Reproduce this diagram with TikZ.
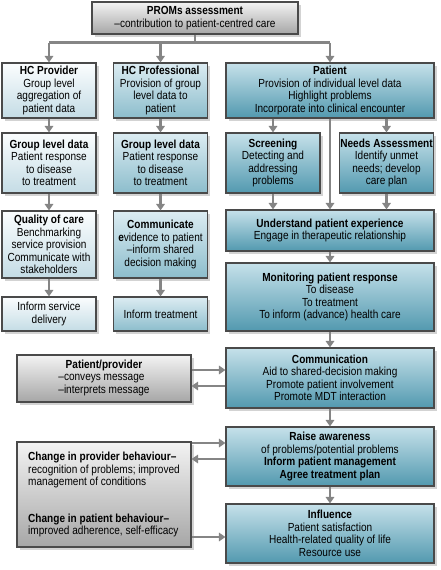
\documentclass[tikz,border=0pt]{standalone}
\usepackage{fontspec}
\setmainfont{Liberation Sans}[FakeStretch=0.86]
\usetikzlibrary{arrows.meta,shadows}
\definecolor{edgegrey}{HTML}{4A4A4A}
\definecolor{arrowgrey}{HTML}{858585}
\definecolor{provtop}{HTML}{FBFDFE}
\definecolor{provbot}{HTML}{C4DCE5}
\definecolor{proftop}{HTML}{DCECF2}
\definecolor{profbot}{HTML}{8CBDCC}
\definecolor{pattop}{HTML}{C6E1EA}
\definecolor{patbot}{HTML}{5299AF}
\definecolor{greytop}{HTML}{F3F3F3}
\definecolor{greybot}{HTML}{A6A6A6}
\tikzset{
	basebox/.style={
		draw=edgegrey, line width=1.1pt, align=center, inner sep=1pt,
		font=\fontsize{11.7}{12.5}\selectfont,
		drop shadow={opacity=0.35, shadow xshift=2.5pt, shadow yshift=-3pt}},
	provbox/.style={basebox, top color=provtop, bottom color=provbot},
	profbox/.style={basebox, top color=proftop, bottom color=profbot},
	patbox/.style={basebox, top color=pattop, bottom color=patbot},
	greybox/.style={basebox, top color=greytop, bottom color=greybot},
	narrow/.style={minimum width=94pt, minimum height=#1},
	wide/.style={minimum width=208pt, minimum height=#1},
	conn/.style={draw=arrowgrey, line width=2.8pt},
	arr/.style={conn, -{Triangle[width=8.5pt,length=6.5pt]}}
}
\begin{document}
\begin{tikzpicture}[x=1pt,y=1pt,yscale=-1,xscale=1]
\useasboundingbox (0,0) rectangle (440,570);

% top of the tree
\node[greybox, minimum width=206pt, minimum height=32pt] (proms) at (195,18)
	{\textbf{PROMs assessment}\\–contribution to patient-centred care};

% first row
\node[provbox, narrow=55pt] (provider) at (49,90.5)
	{\textbf{HC Provider}\\Group level\\aggregation of\\patient data};
\node[profbox, narrow=55pt] (professional) at (160.5,90.5)
	{\textbf{HC Professional}\\Provision of group\\level data to\\patient};
\node[patbox, wide=55pt] (patient) at (330,90.5)
	{\textbf{Patient}\\Provision of individual level data\\Highlight problems\\Incorporate into clinical encounter};

% second row
\node[provbox, narrow=60pt] (provdata) at (49,163)
	{\textbf{Group level data}\\Patient response\\to disease\\to treatment};
\node[profbox, narrow=60pt] (profdata) at (160.5,163)
	{\textbf{Group level data}\\Patient response\\to disease\\to treatment};
\node[patbox, narrow=60pt] (screening) at (273,163)
	{\textbf{Screening}\\Detecting and\\addressing\\problems};
\node[patbox, narrow=60pt] (needs) at (386.5,163)
	{\textbf{Needs Assessment}\\Identify unmet\\needs; develop\\care plan};

% third row
\node[provbox, narrow=67pt] (quality) at (49,244.5)
	{\textbf{Quality of care}\\Benchmarking\\service provision\\Communicate with\\stakeholders};
\node[profbox, narrow=67pt] (communicate) at (160.5,244.5)
	{\textbf{Communicate}\\\textbf{e}vidence to patient\\–inform shared\\decision making};
\node[patbox, wide=41pt] (understand) at (330,230.5)
	{\textbf{Understand patient experience}\\Engage in therapeutic relationship};

% fourth row
\node[provbox, narrow=34pt] (service) at (49,314)
	{Inform service\\delivery};
\node[profbox, narrow=34pt] (treatment) at (160.5,314)
	{Inform treatment};
\node[patbox, wide=68pt] (monitoring) at (330,297)
	{\textbf{Monitoring patient response}\\To disease\\To treatment\\To inform (advance) health care};

% lower part
\node[patbox, wide=60pt] (communication) at (330,378)
	{\textbf{Communication}\\Aid to shared-decision making\\Promote patient involvement\\Promote MDT interaction};
\node[greybox, minimum width=174pt, minimum height=47pt] (patprov) at (104,378.5)
	{\textbf{Patient/provider}\\\begin{tabular}{@{}l@{}}–conveys message\\–interprets message\end{tabular}};
\node[patbox, wide=59pt] (awareness) at (330,456.5)
	{\textbf{Raise awareness}\\of problems/potential problems\\\textbf{Inform patient management}\\\textbf{Agree treatment plan}};
\node[patbox, wide=59pt] (influence) at (330,533.5)
	{\textbf{Influence}\\Patient satisfaction\\Health-related quality of life\\Resource use};
\node[greybox, minimum width=174pt, minimum height=105pt, align=left] (behaviour) at (104,494.5)
	{\textbf{Change in provider behaviour–}\\recognition of problems; improved\\management of conditions\\[24pt]
	\textbf{Change in patient behaviour–}\\improved adherence, self-efficacy};

% connectors
\draw[conn] (proms.south) -- ++(0,8) coordinate (split);
\draw[conn] (split -| provider) -- (split -| patient);
\draw[arr] (split -| provider) -- (provider.north);
\draw[arr] (split -| professional) -- (professional.north);
\draw[arr] (split -| patient) -- (patient.north);

\draw[arr] (provider) -- (provdata);
\draw[arr] (provdata) -- (quality);
\draw[arr] (quality) -- (service);
\draw[arr] (professional) -- (profdata);
\draw[arr] (profdata) -- (communicate);
\draw[arr] (communicate) -- (treatment);

\draw[arr] (patient.south -| screening) -- (screening.north);
\draw[arr] (patient.south -| needs) -- (needs.north);
\draw[arr] (patient) -- (understand);
\draw[arr] (screening.south) -- (screening.south |- understand.north);
\draw[arr] (needs.south) -- (needs.south |- understand.north);
\draw[arr] (understand) -- (monitoring);
\draw[arr] (monitoring) -- (communication);
\draw[arr] (communication) -- (awareness);
\draw[arr] (awareness) -- (influence);

\draw[arr] ([yshift=8pt]communication.west) -- ([yshift=8pt]communication.west -| patprov.east);
\draw[arr] ([yshift=-8pt]communication.west -| patprov.east) -- ([yshift=-8pt]communication.west);
\draw[arr] ([yshift=2.5pt]awareness.west) -- ([yshift=2.5pt]awareness.west -| behaviour.east);
\draw[arr] ([yshift=-13.5pt]awareness.west -| behaviour.east) -- ([yshift=-13.5pt]awareness.west);
\draw[arr] ([yshift=3.5pt]influence.west -| behaviour.east) -- ([yshift=3.5pt]influence.west);

\end{tikzpicture}
\end{document}
